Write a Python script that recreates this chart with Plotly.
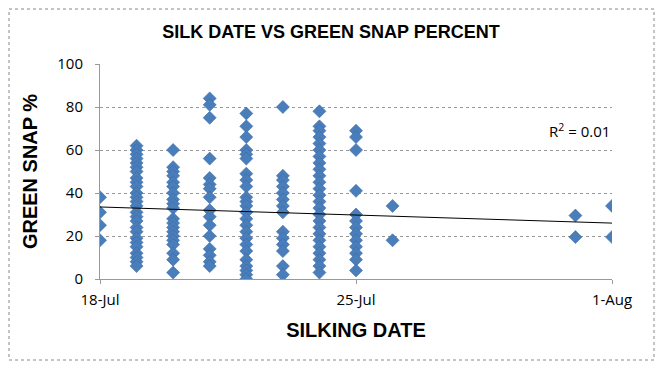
import numpy as np
import pandas as pd
import plotly.graph_objects as go

# Silking dates and green snap % per date
d18 = [38, 31, 25, 18]
d19 = [62, 60, 58, 56, 54, 52, 50, 47, 45, 43, 40, 38, 36, 34, 31, 29, 27, 24, 22, 19, 17, 15, 12, 10, 8, 6]
d20 = [60, 52, 50, 48, 45, 43, 40, 37, 35, 33, 28, 26, 24, 22, 20, 18, 16, 12, 9, 3]
d21 = [84, 81, 75, 56, 47, 44, 42, 38, 32, 29, 25, 20, 14, 11, 8, 6]
d22 = [77, 71, 66, 60, 58, 56, 49, 46, 43, 38, 36, 34, 31, 28, 25, 22, 19, 16, 13, 9, 6, 4, 2, 0]
d23 = [80, 48, 46, 43, 40, 37, 34, 31, 22, 19, 16, 13, 6, 2]
d24 = [78, 71, 69, 66, 63, 60, 57, 54, 51, 48, 45, 42, 39, 36, 33, 30, 27, 24, 21, 18, 15, 12, 9, 6, 3]
d25 = [69, 66, 60, 41, 30, 27, 24, 21, 18, 15, 12, 9, 4]
d26 = [34, 18]
d31 = [29.5, 19.5]
d01 = [34, 19.5]

dates = ["2012-07-18", "2012-07-19", "2012-07-20", "2012-07-21", "2012-07-22", "2012-07-23",
         "2012-07-24", "2012-07-25", "2012-07-26", "2012-07-31", "2012-08-01"]
groups = [d18, d19, d20, d21, d22, d23, d24, d25, d26, d31, d01]

# Linear trendline as drawn in the chart (start / end values)
trend_x = ["2012-07-18", "2012-08-01"]
trend_y = [33.5, 26.0]

tick_vals = ["2012-07-18", "2012-07-25", "2012-08-01"]
tick_text = ["18-Jul", "25-Jul", "1-Aug"]
y_ticks = [0, 20, 40, 60, 80, 100]
r2_label = "R<sup>2</sup> = 0.01"

xs, ys = [], []
for d, g in zip(dates, groups):
    xs += [d] * len(g)
    ys += g

# page offset (body margin) compensation: figure starts at page (8, 8)
OFF = 8
W, H = 663 - OFF, 371 - OFF
PL, PR, PT, PB = 100, 612, 64, 279  # plot area in page pixels
pw, ph = PR - PL, PB - PT

def px(xp):
    return (xp - PL) / pw

def py(yp):
    return (PB - yp) / ph

fig = go.Figure()
fig.add_trace(go.Scatter(
    x=xs, y=ys, mode="markers",
    marker=dict(symbol="diamond", size=10, color="#4A7EBB",
                line=dict(width=0.6, color="#3A6AA5")),
    showlegend=False, hoverinfo="skip"))
fig.add_trace(go.Scatter(
    x=trend_x, y=trend_y, mode="lines",
    line=dict(color="black", width=1), showlegend=False, hoverinfo="skip"))

tickfont = dict(size=15, family="Open Sans, Liberation Sans, sans-serif")

fig.update_layout(
    width=W, height=H,
    margin=dict(l=PL - OFF, r=663 - PR, t=PT - OFF, b=371 - PB, pad=0),
    paper_bgcolor="white", plot_bgcolor="white",
    font=dict(family="Liberation Sans, Arial, sans-serif", color="black"),
    title=dict(text="<b>SILK DATE VS GREEN SNAP PERCENT</b>", x=(331 - OFF) / W, xanchor="center",
               y=1 - (32 - OFF) / H, yanchor="middle", font=dict(size=18)),
    xaxis=dict(range=["2012-07-18", "2012-08-01"], tickvals=tick_vals, ticktext=tick_text,
               showgrid=False, zeroline=False, showline=True, linecolor="#999999", linewidth=1,
               ticks="outside", ticklen=4, tickcolor="#999999", ticklabelstandoff=3,
               tickfont=tickfont,
               title=dict(text="<b>SILKING DATE</b>", font=dict(size=20), standoff=14)),
    yaxis=dict(range=[0, 100], tickvals=y_ticks,
               showgrid=True, gridcolor="#999999", griddash="dot", gridwidth=1,
               zeroline=False, showline=True, linecolor="#999999", linewidth=1,
               ticks="outside", ticklen=4, tickcolor="#999999", ticklabelstandoff=9,
               tickfont=tickfont,
               title=dict(text="<b>GREEN SNAP %</b>", font=dict(size=20), standoff=14)),
    annotations=[dict(text=r2_label, xref="paper", yref="y", x=1.0, y=69,
                      xanchor="right", yanchor="middle", showarrow=False,
                      font=dict(size=15, family="Open Sans, Liberation Sans, sans-serif"))],
    shapes=[dict(type="rect", xref="paper", yref="paper",
                 x0=px(9), x1=px(654), y0=py(360), y1=py(9),
                 line=dict(color="#888888", width=1, dash="dot"), layer="below")],
)

fig.write_html("out.html")
